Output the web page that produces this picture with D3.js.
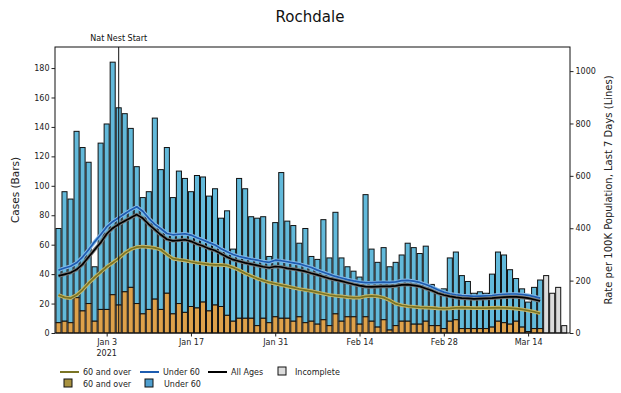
<!DOCTYPE html>
<html><head><meta charset="utf-8">
<script src="https://cdn.jsdelivr.net/npm/d3@7"></script>
<style>body{margin:0;background:#fff}svg{display:block}text{font-family:"DejaVu Sans",sans-serif}</style>
</head><body>
<svg id="c" width="621" height="393"></svg>
<script>
const chartTitle = "Rochdale";
const startDate = "2020-12-26";
const totalCases = [71,96,91,137,126,116,45,129,142,184, 153,149,139,113,92,96,146,111,126,92,
  110,105,96,107,106,93,98,78,83,57, 105,98,79,78,79,52,75,109,76,73,
  61,71,52,50,77,51,82,51,45,42, 38,94,57,48,58,45,48,53,61,58,
  54,59,33,29,30,51,55,39,35,27, 28,27,40,55,53,43,37,30,21,31,
  36,39,27,31,5];
const over60Cases = [7,8,7,24,15,20,8,16,16,26, 19,28,31,20,13,16,23,16,27,13,
  20,14,18,17,21,15,19,18,12,8, 10,10,10,5,10,7,11,10,10,8,
  11,7,8,6,9,5,13,8,11,11, 6,11,8,4,9,2,5,8,8,6,
  6,8,5,5,3,8,9,3,3,3, 3,3,4,8,7,6,8,4,1,3, 3];
const incompleteFrom = 81;
const rateAll = [218,224,230,242,262,290,318,345,378,400, 415,428,440,452,438,415,395,375,358,352,
  354,356,350,340,332,322,315,303,290,280, 274,268,263,258,253,249,254,252,247,244,
  240,235,228,222,215,208,203,198,192,186, 181,177,176,177,178,178,180,184,185,182,
  178,170,162,152,145,140,136,133,132,130, 131,132,133,135,137,138,138,136,133,128, 122];
const rateUnder60 = [240,248,255,268,290,318,348,375,405,425, 440,455,470,482,465,438,415,398,380,375,
  377,379,374,364,355,345,336,322,310,300, 292,287,282,278,273,270,278,276,272,268,
  264,257,250,240,232,224,216,210,204,199, 195,192,192,193,194,193,195,200,201,198,
  193,185,176,165,156,150,146,143,142,140, 141,142,143,146,148,149,149,147,144,139, 133];
const rateOver60 = [145,136,133,145,165,190,212,232,252,268, 285,305,320,328,330,328,325,318,300,284,
  280,277,272,268,265,262,260,260,258,250, 240,228,218,208,200,193,188,183,178,173,
  168,164,160,155,150,145,142,140,137,135, 135,140,142,140,135,125,112,106,102,100,
  98,97,96,94,93,94,96,97,96,95, 95,95,96,97,96,95,93,90,86,81, 75];
const leftTicks = [0,20,40,60,80,100,120,140,160,180];
const rightTicks = [0,200,400,600,800,1000];
const xTickDates = ["2021-01-03","2021-01-17","2021-01-31","2021-02-14","2021-02-28","2021-03-14"];
const markerDate = "2021-01-05";
const markerLabel = "Nat Nest Start";
const leftLabel = "Cases (Bars)";
const rightLabel = "Rate per 100K Population, Last 7 Days (Lines)";

const DAY = 864e5;
const parse = d3.utcParse("%Y-%m-%d");
const d0 = parse(startDate);
const dates = totalCases.map((_, i) => new Date(+d0 + i * DAY));

const L = 55, R = 570, T = 47, B = 333;
const svg = d3.select("#c");
const x = d3.scaleUtc().domain([new Date(+d0 - 0.58 * DAY), new Date(+d0 + 84.96 * DAY)]).range([L, R]);
const yL = d3.scaleLinear().domain([0, 194.3]).range([B, T]);
const yR = d3.scaleLinear().domain([0, 1092]).range([B, T]);
const bw = 0.84 * (x(dates[1]) - x(dates[0]));

const cBlue = "#62b9da", cOrange = "#dea14a", cGrey = "#dcdcdc";

// bars
const g = svg.append("g");
dates.forEach((d, i) => {
  const xc = x(d);
  if (i >= incompleteFrom) {
    g.append("rect").attr("x", xc - bw/2).attr("width", bw)
      .attr("y", yL(totalCases[i])).attr("height", yL(0) - yL(totalCases[i]))
      .attr("fill", cGrey).attr("stroke", "#111").attr("stroke-width", 1);
  } else {
    const o = over60Cases[i];
    g.append("rect").attr("x", xc - bw/2).attr("width", bw)
      .attr("y", yL(totalCases[i])).attr("height", yL(o) - yL(totalCases[i]))
      .attr("fill", cBlue).attr("stroke", "#111").attr("stroke-width", 1);
    g.append("rect").attr("x", xc - bw/2).attr("width", bw)
      .attr("y", yL(o)).attr("height", yL(0) - yL(o))
      .attr("fill", cOrange).attr("stroke", "#111").attr("stroke-width", 1);
  }
});

// lines
const lineGen = arr => d3.line().x((v, i) => x(dates[i])).y(v => yR(v))(arr);
const series = [
  {data: rateOver60, color: "#7a7424", halo: "#c8b86a"},
  {data: rateUnder60, color: "#1d5cb0", halo: "#86b9e6"},
  {data: rateAll, color: "#000000", halo: "#7a7a7a"}
];
series.forEach(s => {
  svg.append("path").attr("d", lineGen(s.data)).attr("fill", "none")
    .attr("stroke", s.halo).attr("stroke-width", 3.6).attr("stroke-linejoin", "round");
  svg.append("path").attr("d", lineGen(s.data)).attr("fill", "none")
    .attr("stroke", s.color).attr("stroke-width", 1.7).attr("stroke-linejoin", "round");
});

// marker line
const xm = x(parse(markerDate));
svg.append("line").attr("x1", xm).attr("x2", xm).attr("y1", T).attr("y2", B)
  .attr("stroke", "#111").attr("stroke-width", 1);
svg.append("text").attr("x", xm).attr("y", 41).attr("text-anchor", "middle")
  .attr("font-size", 8).attr("fill", "#111").text(markerLabel);

// frame
svg.append("rect").attr("x", L).attr("y", T).attr("width", R - L).attr("height", B - T)
  .attr("fill", "none").attr("stroke", "#111").attr("stroke-width", 1);

// axes
const axL = svg.append("g").attr("transform", `translate(${L},0)`)
  .call(d3.axisLeft(yL).tickValues(leftTicks).tickSize(3.5).tickPadding(2));
const axR = svg.append("g").attr("transform", `translate(${R},0)`)
  .call(d3.axisRight(yR).tickValues(rightTicks).tickSize(3.5).tickPadding(2).tickFormat(d3.format("d")));
const fmt = d3.utcFormat("%b %-d");
const axB = svg.append("g").attr("transform", `translate(0,${B})`)
  .call(d3.axisBottom(x).tickValues(xTickDates.map(parse)).tickSize(3.5).tickPadding(3).tickFormat(fmt));
[axL, axR, axB].forEach(a => {
  a.select(".domain").remove();
  a.selectAll("text").attr("font-size", 8).attr("fill", "#222").attr("font-family", "DejaVu Sans");
  a.selectAll("line").attr("stroke", "#222");
});
axB.append("text").attr("x", x(parse(xTickDates[0]))).attr("y", 23).attr("text-anchor", "middle")
  .attr("font-size", 8).attr("fill", "#222").attr("font-family", "DejaVu Sans").text("2021");

// title and axis labels
svg.append("text").attr("x", 310).attr("y", 22).attr("text-anchor", "middle")
  .attr("font-size", 15).attr("fill", "#111").text(chartTitle);
svg.append("text").attr("transform", `translate(19,${(T+B)/2}) rotate(-90)`).attr("text-anchor", "middle")
  .attr("font-size", 10.5).attr("fill", "#222").text(leftLabel);
svg.append("text").attr("transform", `translate(612,${(T+B)/2}) rotate(-90)`).attr("text-anchor", "middle")
  .attr("font-size", 10).attr("fill", "#222").text(rightLabel);

// legend
const lg = svg.append("g").attr("font-size", 8).attr("fill", "#222");
const row1 = 375, row2 = 387;
const lineItems = [
  {x: 60, label: "60 and over", color: "#7a7424"},
  {x: 140, label: "Under 60", color: "#1d5cb0"},
  {x: 208, label: "All Ages", color: "#000"}
];
lineItems.forEach(it => {
  lg.append("line").attr("x1", it.x).attr("x2", it.x + 19).attr("y1", row1 - 3).attr("y2", row1 - 3)
    .attr("stroke", it.color).attr("stroke-width", 2);
  lg.append("text").attr("x", it.x + 23).attr("y", row1).text(it.label);
});
const patchItems = [
  {x: 278, y: row1, label: "Incomplete", color: cGrey},
  {x: 64, y: row2, label: "60 and over", color: "#a89240"},
  {x: 145, y: row2, label: "Under 60", color: "#4f9fcf"}
];
patchItems.forEach(it => {
  lg.append("rect").attr("x", it.x).attr("y", it.y - 8).attr("width", 8).attr("height", 8)
    .attr("fill", it.color).attr("stroke", "#111").attr("stroke-width", 1);
  lg.append("text").attr("x", it.x + (it.label === "Incomplete" ? 17 : 19)).attr("y", it.y).text(it.label);
});
</script>
</body></html>
